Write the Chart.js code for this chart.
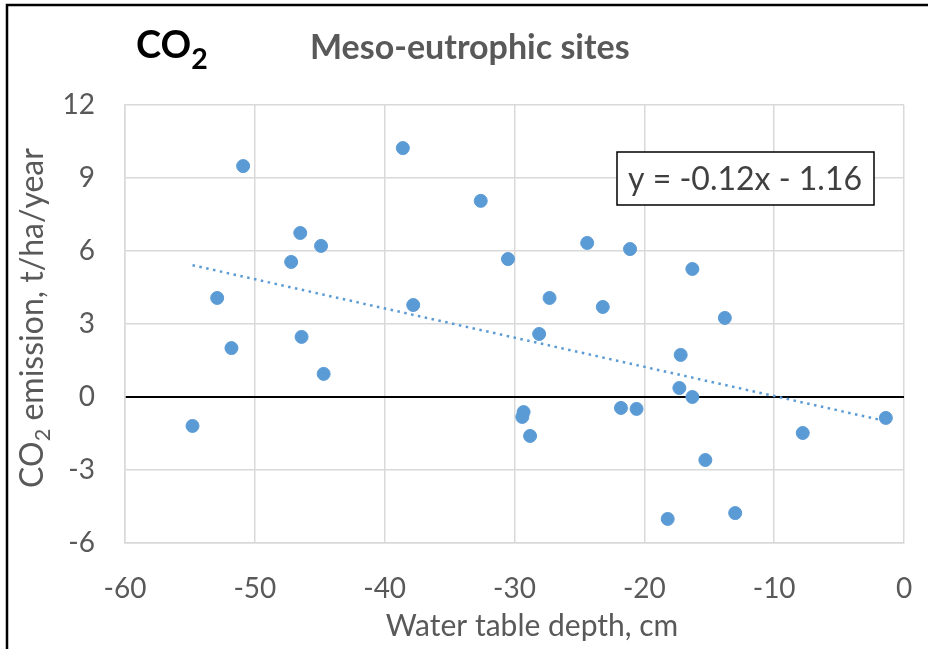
<!DOCTYPE html>
<html>
<head>
<meta charset="utf-8">
<script src="https://cdn.jsdelivr.net/npm/chart.js@4"></script>
<style>
  html, body { margin: 0; padding: 0; background: #fff; }
  #wrap { width: 928px; height: 649px; position: relative; }
</style>
</head>
<body>
<div id="wrap"><canvas id="co2Chart" width="928" height="649"></canvas></div>
<script>
var depthCm = [-50.9, -38.6, -32.6, -46.5, -44.9, -47.2, -52.9, -51.8, -46.4, -44.7, -54.8,
  -37.8, -30.5, -24.4, -21.1, -27.3, -28.1, -23.2, -16.3, -13.8, -17.2, -17.3, -16.3,
  -29.3, -29.4, -28.8, -21.8, -20.6, -15.3, -18.2, -13.0, -7.8, -1.4];
var emission = [9.49, 10.23, 8.06, 6.74, 6.21, 5.55, 4.07, 2.01, 2.47, 0.95, -1.19,
  3.78, 5.67, 6.33, 6.08, 4.07, 2.59, 3.70, 5.26, 3.25, 1.73, 0.37, 0,
  -0.62, -0.82, -1.60, -0.45, -0.49, -2.59, -5.01, -4.77, -1.48, -0.86];
var xTicks = [-60, -50, -40, -30, -20, -10, 0];
var yTicks = [-6, -3, 0, 3, 6, 9, 12];
var trendSlope = -0.12;
var trendIntercept = -1.16;

var FONT = "Lato, 'Open Sans', sans-serif";
var GREY = "#595959";
var BLUE = "#5B9BD5";

var points = depthCm.map(function (x, i) { return { x: x, y: emission[i] }; });
var xMin = Math.min.apply(null, depthCm);
var xMax = Math.max.apply(null, depthCm);
var trend = [xMin, xMax].map(function (x) { return { x: x, y: trendSlope * x + trendIntercept }; });

// text with a subscript "2" after "CO"
function drawSubText(ctx, parts, x, y, size, align, subScale, subShift) {
  var total = 0;
  var fontFor = function (p) {
    return (p.bold ? "bold " : "") + (p.sub ? size * subScale : size) + "px " + FONT;
  };
  parts.forEach(function (p) {
    ctx.font = fontFor(p);
    p.w = ctx.measureText(p.t).width;
    total += p.w;
  });
  var cx = align === "center" ? x - total / 2 : x;
  parts.forEach(function (p) {
    ctx.font = fontFor(p);
    ctx.fillText(p.t, cx, p.sub ? y + size * subShift : y);
    cx += p.w;
  });
}

var decorations = {
  id: "decorations",
  afterDraw: function (chart) {
    var ctx = chart.ctx;
    ctx.save();
    ctx.textBaseline = "middle";
    ctx.textAlign = "left";

    // frame
    ctx.strokeStyle = "#000";
    ctx.lineWidth = 2.5;
    ctx.beginPath();
    ctx.moveTo(7, 649);
    ctx.lineTo(7, 5);
    ctx.lineTo(928, 5);
    ctx.stroke();

    // titles
    ctx.fillStyle = "#000";
    drawSubText(ctx, [{ t: "CO", bold: true }, { t: "2", bold: true, sub: true }], 136, 46, 38, "left", 0.75, 0.36);
    ctx.fillStyle = GREY;
    ctx.font = "bold 34px " + FONT;
    ctx.fillText("Meso-eutrophic sites", 310, 48);

    // x axis title
    ctx.textAlign = "center";
    ctx.font = "30px " + FONT;
    ctx.fillText("Water table depth, cm", 532, 626);

    // y axis title
    ctx.save();
    ctx.translate(33, 318);
    ctx.rotate(-Math.PI / 2);
    ctx.textAlign = "left";
    drawSubText(ctx, [{ t: "CO" }, { t: "2", sub: true }, { t: " emission, t/ha/year" }], 0, 0, 32, "center", 0.68, 0.3);
    ctx.restore();

    // equation box
    ctx.fillStyle = "#fff";
    ctx.fillRect(617, 152, 257, 53);
    ctx.strokeStyle = "#000";
    ctx.lineWidth = 1.5;
    ctx.strokeRect(617, 152, 257, 53);
    ctx.fillStyle = "#404040";
    ctx.font = "32px " + FONT;
    ctx.textAlign = "center";
    ctx.fillText("y = -0.12x - 1.16", 745, 180);
    ctx.restore();
  }
};

new Chart(document.getElementById("co2Chart"), {
  type: "scatter",
  data: {
    datasets: [{
      label: "CO2",
      data: points,
      backgroundColor: BLUE,
      borderColor: BLUE,
      pointRadius: 6.5,
      pointHoverRadius: 6.5,
      order: 1
    }, {
      type: "line",
      label: "Linear",
      data: trend,
      borderColor: BLUE,
      borderWidth: 2.5,
      borderDash: [2.5, 4.5],
      pointRadius: 0,
      fill: false,
      order: 2
    }]
  },
  options: {
    responsive: false,
    animation: false,
    layout: { padding: { top: 105, right: 24, left: 0, bottom: 0 } },
    plugins: { legend: { display: false }, tooltip: { enabled: false } },
    scales: {
      x: {
        type: "linear",
        min: -60,
        max: 0,
        afterBuildTicks: function (axis) { axis.ticks = xTicks.map(function (v) { return { value: v }; }); },
        afterFit: function (axis) { axis.height = 106; axis.paddingLeft = 0; axis.paddingRight = 0; },
        grid: { color: "#D9D9D9", lineWidth: 1.5, drawTicks: false },
        border: { color: "#D9D9D9", width: 1.5 },
        ticks: { color: GREY, font: { family: FONT, size: 28 }, padding: 29, maxRotation: 0 }
      },
      y: {
        type: "linear",
        min: -6,
        max: 12,
        afterBuildTicks: function (axis) { axis.ticks = yTicks.map(function (v) { return { value: v }; }); },
        afterFit: function (axis) { axis.width = 125; axis.paddingTop = 0; axis.paddingBottom = 0; },
        grid: {
          color: function (c) { return c.tick && c.tick.value === 0 ? "#000" : "#D9D9D9"; },
          lineWidth: function (c) { return c.tick && c.tick.value === 0 ? 2 : 1.5; },
          drawTicks: false
        },
        border: { color: "#D9D9D9", width: 1.5 },
        ticks: { color: GREY, font: { family: FONT, size: 28 }, padding: 30 }
      }
    }
  },
  plugins: [decorations]
});
</script>
</body>
</html>
